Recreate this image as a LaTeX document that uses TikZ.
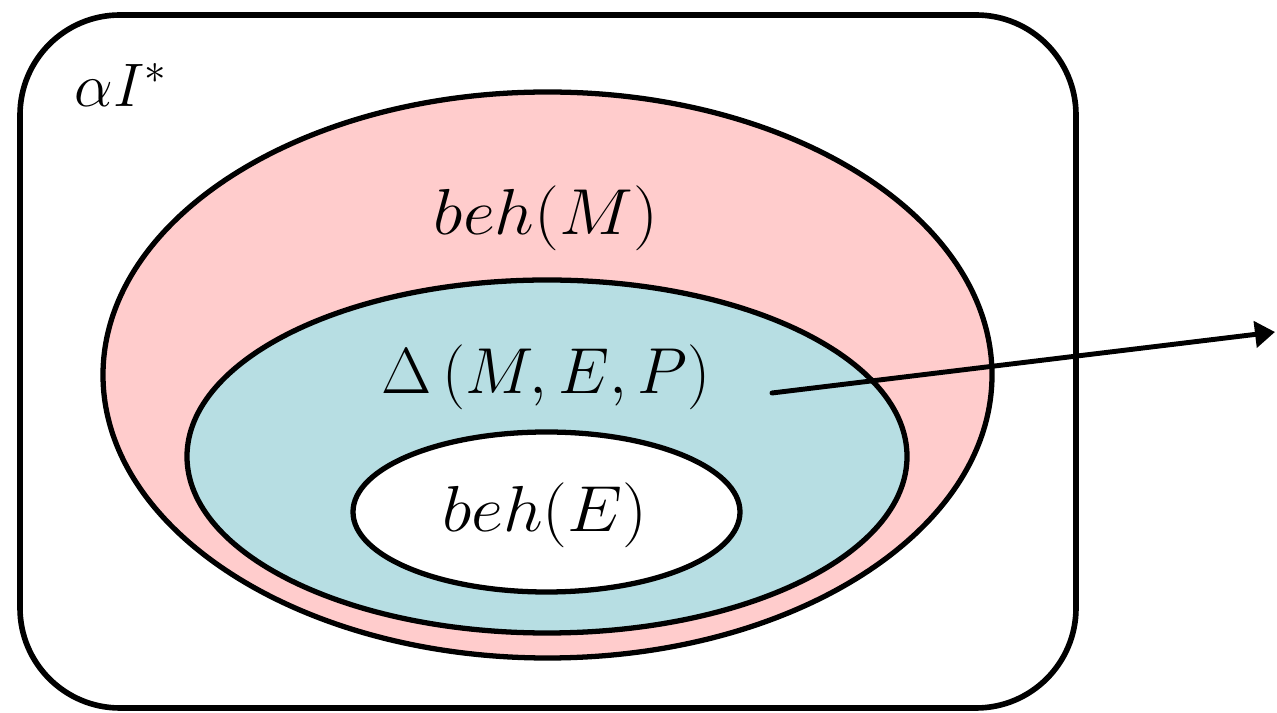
\documentclass[tikz,border=0pt]{standalone}
\usepackage{fix-cm}
\usepackage{amsmath,amssymb}
\usetikzlibrary{arrows.meta}
\definecolor{behpink}{RGB}{255,204,204}
\definecolor{deltablue}{RGB}{183,222,227}

\begin{document}
\begin{tikzpicture}[line cap=round, line join=round, >={Triangle[length=4mm, width=5.2mm]},
    setline/.style={line width=3pt},
    setlabel/.style={font=\fontsize{37}{44}\selectfont, inner sep=0pt}]
    \useasboundingbox (0,0) rectangle (25.54,14.26);

    \draw[line width=3.2pt, rounded corners=2cm] (0.4,0.1) rectangle (21.52,13.96);

    \filldraw[setline, fill=behpink] (10.95,6.76) ellipse (8.89 and 5.66);
    \filldraw[setline, fill=deltablue] (10.94,5.13) ellipse (7.2 and 3.53);
    \filldraw[setline, fill=white] (10.93,4.02) ellipse (3.87 and 1.6);

    \node[setlabel, font=\fontsize{35}{42}\selectfont] (alphaI) at (2.42,12.56) {$\alpha I^{*}$};
    \node[setlabel] (behM) at (10.92,9.9) {\scalebox{1.08}[1]{$beh(M)$}};
    \node[setlabel] (delta) at (10.92,6.72) {$\Delta\,(M,E,P)$};
    \node[setlabel] (behE) at (10.9,3.96) {\scalebox{1.08}[1]{$beh(E)$}};

    \coordinate (arrowstart) at (15.44,6.4);
    \coordinate (arrowend) at (25.5,7.62);
    \draw[->, line width=2.8pt] (arrowstart) -- (arrowend);
\end{tikzpicture}
\end{document}
